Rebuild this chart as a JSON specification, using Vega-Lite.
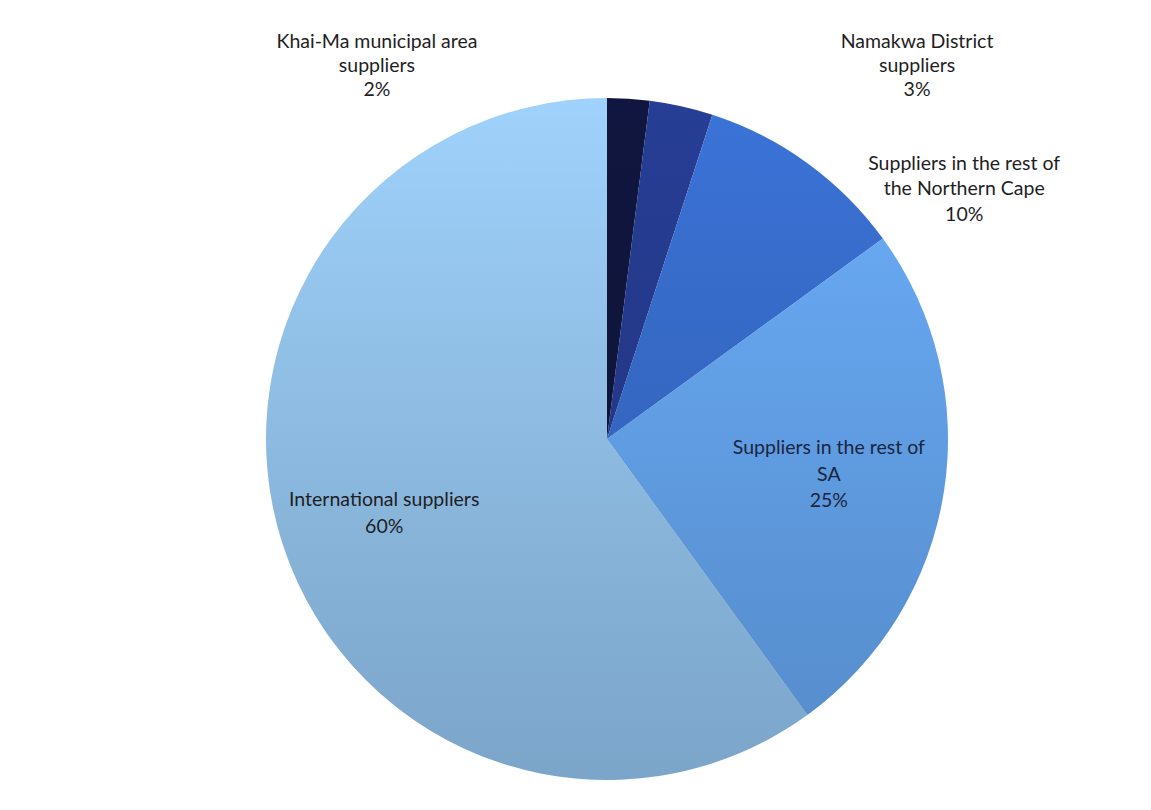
{
  "$schema": "https://vega.github.io/schema/vega-lite/v6.json",
  "width": 1151,
  "height": 810,
  "autosize": {"type": "fit", "contains": "padding"},
  "padding": {"left": 63, "top": 65, "right": 0, "bottom": 0},
  "background": "white",
  "config": {"view": {"stroke": null}, "text": {"font": "Lato", "fontSize": 19.5, "lineBreak": "\n", "lineHeight": 25, "color": "#1e1e24"}},
  "data": {
    "values": [
      {"category": "Khai-Ma municipal area suppliers", "value": 2, "order": 1, "label": "Khai-Ma municipal area\nsuppliers\n2%"},
      {"category": "Namakwa District suppliers", "value": 3, "order": 2, "label": "Namakwa District\nsuppliers\n3%"},
      {"category": "Suppliers in the rest of the Northern Cape", "value": 10, "order": 3, "label": "Suppliers in the rest of\nthe Northern Cape\n10%"},
      {"category": "Suppliers in the rest of SA", "value": 25, "order": 4, "label": "Suppliers in the rest of\nSA\n25%"},
      {"category": "International suppliers", "value": 60, "order": 5, "label": "International suppliers\n60%"}
    ]
  },
  "transform": [
    {"stack": "value", "groupby": [], "sort": [{"field": "order", "order": "ascending"}], "as": ["v0", "v1"]}
  ],
  "encoding": {
    "theta": {"field": "v0", "type": "quantitative", "scale": {"domain": [0, 100]}}
  },
  "layer": [
    {
      "mark": {"type": "arc", "outerRadius": 341},
      "encoding": {
        "theta2": {"field": "v1"},
        "color": {
          "field": "category",
          "type": "nominal",
          "legend": null,
          "scale": {
            "domain": ["Khai-Ma municipal area suppliers", "Namakwa District suppliers", "Suppliers in the rest of the Northern Cape", "Suppliers in the rest of SA", "International suppliers"],
            "range": ["#10163f", "#273e96", "#3b73d8", "#6cb0fd", "#9fd2fc"]
          }
        }
      }
    },
    {
      "mark": {
        "type": "arc",
        "outerRadius": 341,
        "color": {
          "gradient": "linear", "x1": 0, "y1": 0, "x2": 0, "y2": 1,
          "stops": [
            {"offset": 0, "color": "rgba(0,0,0,0)"},
            {"offset": 1, "color": "rgba(10,20,40,0.24)"}
          ]
        }
      },
      "encoding": {
        "theta": {"aggregate": "max", "field": "v1", "type": "quantitative"}
      }
    },
    {
      "transform": [{"filter": "datum.order == 1"}],
      "mark": {"type": "text", "radius": 459, "thetaOffset": -0.525, "lineHeight": 24},
      "encoding": {"text": {"field": "label"}}
    },
    {
      "transform": [{"filter": "datum.order == 2"}],
      "mark": {"type": "text", "radius": 504, "thetaOffset": 0.537, "lineHeight": 24},
      "encoding": {"text": {"field": "label"}}
    },
    {
      "transform": [{"filter": "datum.order == 3"}],
      "mark": {"type": "text", "radius": 451, "thetaOffset": 0.600, "lineHeight": 25.5},
      "encoding": {"text": {"field": "label"}}
    },
    {
      "transform": [{"filter": "datum.order == 4"}],
      "mark": {"type": "text", "radius": 222, "thetaOffset": 0.669, "lineHeight": 26.5, "color": "#1b2540"},
      "encoding": {"text": {"field": "label"}}
    },
    {
      "transform": [{"filter": "datum.order == 5"}],
      "mark": {"type": "text", "radius": 231, "thetaOffset": 1.932, "lineHeight": 27},
      "encoding": {"text": {"field": "label"}}
    }
  ]
}
